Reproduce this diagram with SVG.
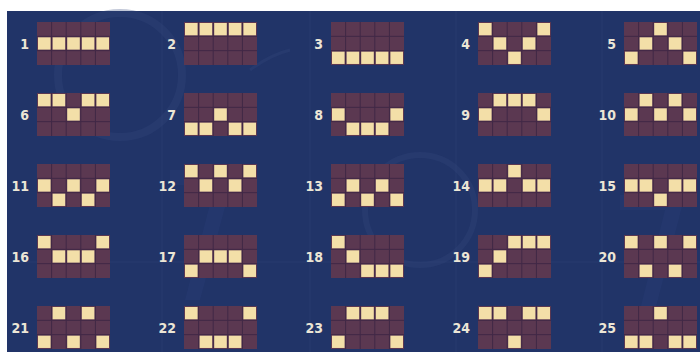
<svg xmlns="http://www.w3.org/2000/svg" xmlns:xlink="http://www.w3.org/1999/xlink" width="700" height="352" viewBox="0 0 700 352">
<style>
.bg{fill:#213468}
.deco{fill:none;stroke:#34497f;stroke-opacity:.3}
.decof{fill:#2b4079;fill-opacity:.3}
.lbl{font-family:"DejaVu Sans Condensed","Liberation Sans Narrow","Liberation Sans",sans-serif;font-weight:bold;font-size:14px;fill:#ece6d6;text-anchor:end}
.base{fill:#5b3851}
.sep{stroke:#402846;stroke-width:1;fill:none}
.on{fill:#f3dfa8}
</style>
<defs>
<g id="grid">
<rect class="base" x="0" y="0" width="73" height="43"/>
<path class="sep" d="M14.6 0V43M29.2 0V43M43.8 0V43M58.4 0V43M0 14.33H73M0 28.67H73"/>
</g>
<rect id="on" class="on" width="12.6" height="12.3"/>
</defs>
<rect x="0" y="0" width="700" height="352" fill="#ffffff"/>
<rect class="bg" x="7" y="11" width="693" height="341"/>
<g id="decor">
<circle class="deco" cx="120" cy="75" r="62" stroke-width="8"/>
<path class="decof" d="M170 170 L235 170 L200 300 L185 300 L215 185 L170 185 Z"/>
<path class="decof" d="M620 195 L685 195 L650 330 L635 330 L665 210 L620 210 Z"/>
<circle class="deco" cx="420" cy="210" r="55" stroke-width="6"/>
<path class="deco" d="M250 70 Q270 55 290 50" stroke-width="3"/>
<path class="deco" d="M10 262 H700" stroke-width="1"/>
<path class="deco" d="M162 11 V352 M310 11 V352 M456 11 V352 M602 11 V352" stroke-width="1"/>
</g>
<g id="connectors"></g>
<g id="line1" transform="translate(37 22)"><text class="lbl" x="-8" y="26.5">1</text><use href="#grid"/><use href="#on" x="1" y="15.33"/><use href="#on" x="15.6" y="15.33"/><use href="#on" x="30.2" y="15.33"/><use href="#on" x="44.8" y="15.33"/><use href="#on" x="59.4" y="15.33"/></g>
<g id="line2" transform="translate(184 22)"><text class="lbl" x="-8" y="26.5">2</text><use href="#grid"/><use href="#on" x="1" y="1"/><use href="#on" x="15.6" y="1"/><use href="#on" x="30.2" y="1"/><use href="#on" x="44.8" y="1"/><use href="#on" x="59.4" y="1"/></g>
<g id="line3" transform="translate(331 22)"><text class="lbl" x="-8" y="26.5">3</text><use href="#grid"/><use href="#on" x="1" y="29.67"/><use href="#on" x="15.6" y="29.67"/><use href="#on" x="30.2" y="29.67"/><use href="#on" x="44.8" y="29.67"/><use href="#on" x="59.4" y="29.67"/></g>
<g id="line4" transform="translate(478 22)"><text class="lbl" x="-8" y="26.5">4</text><use href="#grid"/><use href="#on" x="1" y="1"/><use href="#on" x="15.6" y="15.33"/><use href="#on" x="30.2" y="29.67"/><use href="#on" x="44.8" y="15.33"/><use href="#on" x="59.4" y="1"/></g>
<g id="line5" transform="translate(624 22)"><text class="lbl" x="-8" y="26.5">5</text><use href="#grid"/><use href="#on" x="1" y="29.67"/><use href="#on" x="15.6" y="15.33"/><use href="#on" x="30.2" y="1"/><use href="#on" x="44.8" y="15.33"/><use href="#on" x="59.4" y="29.67"/></g>
<g id="line6" transform="translate(37 93)"><text class="lbl" x="-8" y="26.5">6</text><use href="#grid"/><use href="#on" x="1" y="1"/><use href="#on" x="15.6" y="1"/><use href="#on" x="30.2" y="15.33"/><use href="#on" x="44.8" y="1"/><use href="#on" x="59.4" y="1"/></g>
<g id="line7" transform="translate(184 93)"><text class="lbl" x="-8" y="26.5">7</text><use href="#grid"/><use href="#on" x="1" y="29.67"/><use href="#on" x="15.6" y="29.67"/><use href="#on" x="30.2" y="15.33"/><use href="#on" x="44.8" y="29.67"/><use href="#on" x="59.4" y="29.67"/></g>
<g id="line8" transform="translate(331 93)"><text class="lbl" x="-8" y="26.5">8</text><use href="#grid"/><use href="#on" x="1" y="15.33"/><use href="#on" x="15.6" y="29.67"/><use href="#on" x="30.2" y="29.67"/><use href="#on" x="44.8" y="29.67"/><use href="#on" x="59.4" y="15.33"/></g>
<g id="line9" transform="translate(478 93)"><text class="lbl" x="-8" y="26.5">9</text><use href="#grid"/><use href="#on" x="1" y="15.33"/><use href="#on" x="15.6" y="1"/><use href="#on" x="30.2" y="1"/><use href="#on" x="44.8" y="1"/><use href="#on" x="59.4" y="15.33"/></g>
<g id="line10" transform="translate(624 93)"><text class="lbl" x="-8" y="26.5">10</text><use href="#grid"/><use href="#on" x="1" y="15.33"/><use href="#on" x="15.6" y="1"/><use href="#on" x="30.2" y="15.33"/><use href="#on" x="44.8" y="1"/><use href="#on" x="59.4" y="15.33"/></g>
<g id="line11" transform="translate(37 164)"><text class="lbl" x="-8" y="26.5">11</text><use href="#grid"/><use href="#on" x="1" y="15.33"/><use href="#on" x="15.6" y="29.67"/><use href="#on" x="30.2" y="15.33"/><use href="#on" x="44.8" y="29.67"/><use href="#on" x="59.4" y="15.33"/></g>
<g id="line12" transform="translate(184 164)"><text class="lbl" x="-8" y="26.5">12</text><use href="#grid"/><use href="#on" x="1" y="1"/><use href="#on" x="15.6" y="15.33"/><use href="#on" x="30.2" y="1"/><use href="#on" x="44.8" y="15.33"/><use href="#on" x="59.4" y="1"/></g>
<g id="line13" transform="translate(331 164)"><text class="lbl" x="-8" y="26.5">13</text><use href="#grid"/><use href="#on" x="1" y="29.67"/><use href="#on" x="15.6" y="15.33"/><use href="#on" x="30.2" y="29.67"/><use href="#on" x="44.8" y="15.33"/><use href="#on" x="59.4" y="29.67"/></g>
<g id="line14" transform="translate(478 164)"><text class="lbl" x="-8" y="26.5">14</text><use href="#grid"/><use href="#on" x="1" y="15.33"/><use href="#on" x="15.6" y="15.33"/><use href="#on" x="30.2" y="1"/><use href="#on" x="44.8" y="15.33"/><use href="#on" x="59.4" y="15.33"/></g>
<g id="line15" transform="translate(624 164)"><text class="lbl" x="-8" y="26.5">15</text><use href="#grid"/><use href="#on" x="1" y="15.33"/><use href="#on" x="15.6" y="15.33"/><use href="#on" x="30.2" y="29.67"/><use href="#on" x="44.8" y="15.33"/><use href="#on" x="59.4" y="15.33"/></g>
<g id="line16" transform="translate(37 235)"><text class="lbl" x="-8" y="26.5">16</text><use href="#grid"/><use href="#on" x="1" y="1"/><use href="#on" x="15.6" y="15.33"/><use href="#on" x="30.2" y="15.33"/><use href="#on" x="44.8" y="15.33"/><use href="#on" x="59.4" y="1"/></g>
<g id="line17" transform="translate(184 235)"><text class="lbl" x="-8" y="26.5">17</text><use href="#grid"/><use href="#on" x="1" y="29.67"/><use href="#on" x="15.6" y="15.33"/><use href="#on" x="30.2" y="15.33"/><use href="#on" x="44.8" y="15.33"/><use href="#on" x="59.4" y="29.67"/></g>
<g id="line18" transform="translate(331 235)"><text class="lbl" x="-8" y="26.5">18</text><use href="#grid"/><use href="#on" x="1" y="1"/><use href="#on" x="15.6" y="15.33"/><use href="#on" x="30.2" y="29.67"/><use href="#on" x="44.8" y="29.67"/><use href="#on" x="59.4" y="29.67"/></g>
<g id="line19" transform="translate(478 235)"><text class="lbl" x="-8" y="26.5">19</text><use href="#grid"/><use href="#on" x="1" y="29.67"/><use href="#on" x="15.6" y="15.33"/><use href="#on" x="30.2" y="1"/><use href="#on" x="44.8" y="1"/><use href="#on" x="59.4" y="1"/></g>
<g id="line20" transform="translate(624 235)"><text class="lbl" x="-8" y="26.5">20</text><use href="#grid"/><use href="#on" x="1" y="1"/><use href="#on" x="15.6" y="29.67"/><use href="#on" x="30.2" y="1"/><use href="#on" x="44.8" y="29.67"/><use href="#on" x="59.4" y="1"/></g>
<g id="line21" transform="translate(37 306)"><text class="lbl" x="-8" y="26.5">21</text><use href="#grid"/><use href="#on" x="1" y="29.67"/><use href="#on" x="15.6" y="1"/><use href="#on" x="30.2" y="29.67"/><use href="#on" x="44.8" y="1"/><use href="#on" x="59.4" y="29.67"/></g>
<g id="line22" transform="translate(184 306)"><text class="lbl" x="-8" y="26.5">22</text><use href="#grid"/><use href="#on" x="1" y="1"/><use href="#on" x="15.6" y="29.67"/><use href="#on" x="30.2" y="29.67"/><use href="#on" x="44.8" y="29.67"/><use href="#on" x="59.4" y="1"/></g>
<g id="line23" transform="translate(331 306)"><text class="lbl" x="-8" y="26.5">23</text><use href="#grid"/><use href="#on" x="1" y="29.67"/><use href="#on" x="15.6" y="1"/><use href="#on" x="30.2" y="1"/><use href="#on" x="44.8" y="1"/><use href="#on" x="59.4" y="29.67"/></g>
<g id="line24" transform="translate(478 306)"><text class="lbl" x="-8" y="26.5">24</text><use href="#grid"/><use href="#on" x="1" y="1"/><use href="#on" x="15.6" y="1"/><use href="#on" x="30.2" y="29.67"/><use href="#on" x="44.8" y="1"/><use href="#on" x="59.4" y="1"/></g>
<g id="line25" transform="translate(624 306)"><text class="lbl" x="-8" y="26.5">25</text><use href="#grid"/><use href="#on" x="1" y="29.67"/><use href="#on" x="15.6" y="29.67"/><use href="#on" x="30.2" y="1"/><use href="#on" x="44.8" y="29.67"/><use href="#on" x="59.4" y="29.67"/></g>
</svg>
